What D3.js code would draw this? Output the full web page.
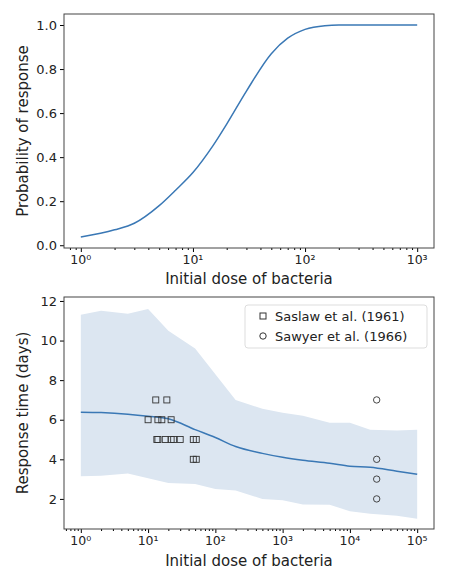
<!DOCTYPE html><html><head><script src="https://cdn.jsdelivr.net/npm/d3@7"></script>
<style>body{margin:0;background:#fff}text{font-family:"DejaVu Sans",sans-serif;fill:#222}</style></head><body><svg id="c" width="450" height="572"></svg>
<script>
const probDose=[1,2,3,5,7,10,15,20,30,50,70,100,150,200,500,1000];
const probVal=[0.037,0.07,0.1,0.18,0.25,0.33,0.45,0.55,0.7,0.87,0.94,0.98,0.997,1,1,1];
const rtDose=[1,2,5,10,20,50,100,200,500,1000,2000,5000,1e4,2e4,5e4,1e5];
const rtMean=[6.38,6.36,6.28,6.18,6.05,5.5,5.1,4.65,4.3,4.1,3.95,3.8,3.65,3.6,3.4,3.25];
const rtUpper=[11.3,11.5,11.35,11.6,10.5,9.6,8.3,7.0,6.55,6.35,6.2,5.85,5.85,5.5,5.45,5.5];
const rtLower=[3.15,3.17,3.28,3.05,2.8,2.75,2.5,2.42,2.0,1.93,1.72,1.7,1.38,1.25,1.15,1.0];
const saslawDose=[10,13,13.5,14,14,16,18,19,22,22,24,30,47,52,47,52];
const saslawTime=[6,7,5,5,6,6,5,7,6,5,5,5,5,5,4,4];
const sawyerDose=[25000,25000,25000,25000];
const sawyerTime=[7,4,3,2];
const probTicks=[0,0.2,0.4,0.6,0.8,1.0];
const rtTicks=[2,4,6,8,10,12];
const sup=["⁰","¹","²","³","⁴","⁵"];
const blue="#3a78b5";
const svg=d3.select("#c");
function logAxis(g,x,maxExp,y0){
  const ax=d3.axisBottom(x).tickValues(d3.range(0,maxExp+1).map(e=>Math.pow(10,e))).tickFormat("").tickSize(4);
  g.append("g").attr("transform",`translate(0,${y0})`).call(ax);
  const minor=[];for(let e=-1;e<=maxExp;e++)for(let m=2;m<10;m++){const v=m*Math.pow(10,e);if(v>=x.domain()[0]&&v<=x.domain()[1])minor.push(v);}
  g.append("g").attr("transform",`translate(0,${y0})`).call(d3.axisBottom(x).tickValues(minor).tickFormat("").tickSize(2));
  d3.range(0,maxExp+1).forEach(e=>{g.append("text").attr("x",x(Math.pow(10,e))).attr("y",y0+16).attr("text-anchor","middle").attr("font-size",12.5).text("10"+sup[e]);});
}
function frame(g,x0,x1,y0,y1){g.selectAll(".domain").remove();g.append("rect").attr("x",x0).attr("y",y0).attr("width",x1-x0).attr("height",y1-y0).attr("fill","none").attr("stroke","#444").attr("stroke-width",1);}
// top
{const g=svg.append("g");
const x=d3.scaleLog().domain([Math.pow(10,-0.15),Math.pow(10,3.15)]).range([64,434]);
const y=d3.scaleLinear().domain([-0.0125,1.05]).range([248,14]);
g.append("path").datum(probDose.map((d,i)=>[d,probVal[i]])).attr("d",d3.line().x(d=>x(d[0])).y(d=>y(d[1])).curve(d3.curveMonotoneX)).attr("fill","none").attr("stroke",blue).attr("stroke-width",1.5);
logAxis(g,x,3,248);
g.append("g").attr("transform","translate(64,0)").call(d3.axisLeft(y).tickValues(probTicks).tickFormat(d3.format(".1f")).tickSize(4)).selectAll("text").attr("font-size",13).style("font-family","DejaVu Sans").attr("fill","#222");
frame(g,64,434,14,248);
g.append("text").attr("x",249).attr("y",284).attr("text-anchor","middle").attr("font-size",15).text("Initial dose of bacteria");
g.append("text").attr("transform","translate(28,131) rotate(-90)").attr("text-anchor","middle").attr("font-size",15).text("Probability of response");
}
// bottom
{const g=svg.append("g");
const x=d3.scaleLog().domain([Math.pow(10,-0.25),Math.pow(10,5.25)]).range([64,434]);
const y=d3.scaleLinear().domain([0.48,12.2]).range([529,297]);
g.append("path").datum(rtDose.map((d,i)=>[d,rtLower[i],rtUpper[i]])).attr("d",d3.area().x(d=>x(d[0])).y0(d=>y(d[1])).y1(d=>y(d[2]))).attr("fill","#dce6f1");
g.append("path").datum(rtDose.map((d,i)=>[d,rtMean[i]])).attr("d",d3.line().x(d=>x(d[0])).y(d=>y(d[1])).curve(d3.curveMonotoneX)).attr("fill","none").attr("stroke",blue).attr("stroke-width",1.5);
saslawDose.forEach((d,i)=>g.append("rect").attr("x",x(d)-3).attr("y",y(saslawTime[i])-3).attr("width",6).attr("height",6).attr("fill","none").attr("stroke","#333").attr("stroke-width",0.9));
sawyerDose.forEach((d,i)=>g.append("circle").attr("cx",x(d)).attr("cy",y(sawyerTime[i])).attr("r",3.2).attr("fill","none").attr("stroke","#333").attr("stroke-width",0.9));
logAxis(g,x,5,529);
g.append("g").attr("transform","translate(64,0)").call(d3.axisLeft(y).tickValues(rtTicks).tickSize(4)).selectAll("text").attr("font-size",13).style("font-family","DejaVu Sans").attr("fill","#222");
frame(g,64,434,297,529);
g.append("rect").attr("x",245).attr("y",305).attr("width",182).attr("height",43).attr("rx",3).attr("fill","#fff").attr("fill-opacity",0.8).attr("stroke","#ddd");
g.append("rect").attr("x",260).attr("y",313).attr("width",6).attr("height",6).attr("fill","none").attr("stroke","#333");
g.append("circle").attr("cx",263).attr("cy",336).attr("r",3.2).attr("fill","none").attr("stroke","#333");
g.append("text").attr("x",275).attr("y",321).attr("font-size",13).text("Saslaw et al. (1961)");
g.append("text").attr("x",275).attr("y",341).attr("font-size",13).text("Sawyer et al. (1966)");
g.append("text").attr("x",249).attr("y",566).attr("text-anchor","middle").attr("font-size",15).text("Initial dose of bacteria");
g.append("text").attr("transform","translate(28,413) rotate(-90)").attr("text-anchor","middle").attr("font-size",15).text("Response time (days)");
}
</script></body></html>
